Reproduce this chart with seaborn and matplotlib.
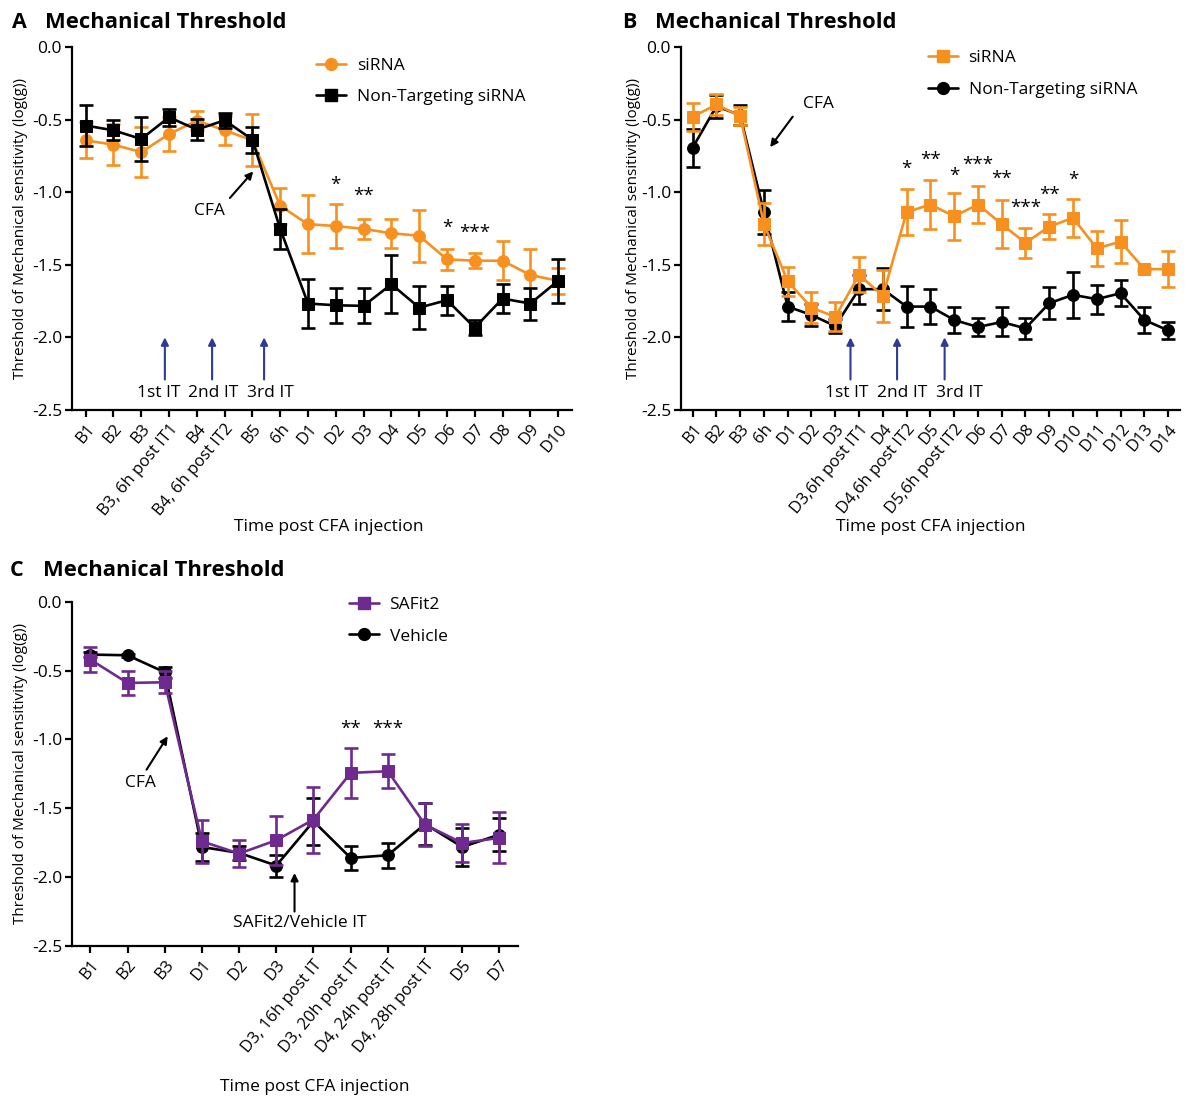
import matplotlib
matplotlib.use("Agg")
import matplotlib.pyplot as plt
import seaborn as sns
import numpy as np
from matplotlib.lines import Line2D

# ---------------- data ----------------
cats_A = ["B1", "B2", "B3", "B3, 6h post IT1", "B4", "B4, 6h post IT2", "B5", "6h",
          "D1", "D2", "D3", "D4", "D5", "D6", "D7", "D8", "D9", "D10"]
sirna_A = [-0.643, -0.673, -0.724, -0.60, -0.507, -0.574, -0.643, -1.094,
           -1.221, -1.233, -1.253, -1.283, -1.30, -1.463, -1.472, -1.472, -1.571, -1.61]
sirna_A_err = [0.125, 0.14, 0.17, 0.115, 0.065, 0.10, 0.18, 0.125,
               0.20, 0.15, 0.07, 0.10, 0.18, 0.07, 0.05, 0.135, 0.18, 0.09]
nt_A = [-0.541, -0.574, -0.634, -0.484, -0.569, -0.505, -0.638, -1.253,
        -1.767, -1.779, -1.783, -1.634, -1.795, -1.744, -1.933, -1.733, -1.767, -1.61]
nt_A_err = [0.14, 0.07, 0.15, 0.06, 0.07, 0.05, 0.09, 0.14,
            0.17, 0.12, 0.12, 0.20, 0.15, 0.10, 0.05, 0.10, 0.11, 0.15]
stars_A = {"D2": ("*", -1.01), "D3": ("**", -1.09), "D6": ("*", -1.31), "D7": ("***", -1.34)}

cats_B = ["B1", "B2", "B3", "6h", "D1", "D2", "D3", "D3,6h post IT1", "D4",
          "D4,6h post IT2", "D5", "D5,6h post IT2", "D6", "D7", "D8", "D9", "D10",
          "D11", "D12", "D13", "D14"]
sirna_B = [-0.482, -0.396, -0.477, -1.219, -1.615, -1.795, -1.859, -1.569, -1.714,
           -1.138, -1.085, -1.166, -1.085, -1.219, -1.35, -1.237, -1.177,
           -1.387, -1.341, -1.53, -1.53]
sirna_B_err = [0.095, 0.075, 0.063, 0.143, 0.10, 0.107, 0.10, 0.12, 0.18,
               0.158, 0.17, 0.163, 0.13, 0.163, 0.10, 0.085, 0.133,
               0.122, 0.147, 0.01, 0.122]
nt_B = [-0.694, -0.408, -0.47, -1.138, -1.788, -1.846, -1.922, -1.668, -1.668,
        -1.788, -1.788, -1.88, -1.929, -1.894, -1.938, -1.765, -1.707,
        -1.737, -1.696, -1.88, -1.952]
nt_B_err = [0.13, 0.08, 0.07, 0.152, 0.10, 0.075, 0.05, 0.10, 0.145,
            0.14, 0.12, 0.09, 0.06, 0.10, 0.07, 0.11, 0.16,
            0.10, 0.09, 0.09, 0.06]
stars_B = {"D4,6h post IT2": ("*", -0.90), "D5": ("**", -0.84), "D5,6h post IT2": ("*", -0.95),
           "D6": ("***", -0.875), "D7": ("**", -0.97), "D8": ("***", -1.17),
           "D9": ("**", -1.08), "D10": ("*", -0.98)}

cats_C = ["B1", "B2", "B3", "D1", "D2", "D3", "D3, 16h post IT", "D3, 20h post IT",
          "D4, 24h post IT", "D4, 28h post IT", "D5", "D7"]
safit_C = [-0.42, -0.59, -0.585, -1.74, -1.829, -1.732, -1.582, -1.243, -1.231,
           -1.619, -1.752, -1.715]
safit_C_err = [0.09, 0.085, 0.08, 0.157, 0.097, 0.178, 0.24, 0.18, 0.123,
               0.155, 0.14, 0.185]
veh_C = [-0.384, -0.389, -0.512, -1.781, -1.824, -1.916, -1.594, -1.861, -1.841,
         -1.614, -1.781, -1.691]
veh_C_err = [0.02, 0.01, 0.04, 0.10, 0.05, 0.08, 0.17, 0.09, 0.09,
             0.155, 0.14, 0.12]
stars_C = {"D3, 20h post IT": ("**", -0.99), "D4, 24h post IT": ("***", -0.99)}

yticks = [0.0, -0.5, -1.0, -1.5, -2.0, -2.5]

ORANGE = "#F7901E"
PURPLE = "#6F2A90"
BLUE = "#2E3A96"
BLACK = "#000000"

# ---------------- style ----------------
sns.set_style("ticks")
plt.rcParams["font.family"] = ["Open Sans", "DejaVu Sans"]
plt.rcParams["axes.unicode_minus"] = False
plt.rcParams["axes.linewidth"] = 1.6
plt.rcParams["xtick.major.width"] = 1.6
plt.rcParams["ytick.major.width"] = 1.6
plt.rcParams["xtick.major.size"] = 5
plt.rcParams["ytick.major.size"] = 5
plt.rcParams["xtick.color"] = "black"
plt.rcParams["ytick.color"] = "black"
plt.rcParams["axes.edgecolor"] = "black"
plt.rcParams["text.color"] = "black"
plt.rcParams["axes.labelcolor"] = "black"

fig = plt.figure(figsize=(11.92, 11.0), dpi=100)
axA = fig.add_axes([0.0602, 0.6273, 0.4197, 0.3300])
axB = fig.add_axes([0.5711, 0.6273, 0.4188, 0.3300])
axC = fig.add_axes([0.0602, 0.1400, 0.3744, 0.3130])

LW = 1.9
FS_TICK = 12
FS_YTICK = 12.5
FS_XLAB = 12.5
FS_YLAB = 11
FS_ANN = 12.5
FS_LEG = 12.5
ROT = 50


def series(ax, x, y, err, color, marker, z):
    sns.lineplot(x=x, y=y, ax=ax, color=color, marker=marker, markersize=8.5,
                 markeredgecolor=color, linewidth=LW, zorder=z, errorbar=None)
    ax.errorbar(x, y, yerr=err, fmt="none", ecolor=color, elinewidth=LW,
                capsize=5, capthick=LW, zorder=z)


def setup(ax, cats, xlab_x, xlab_y, ylab_x):
    n = len(cats)
    ax.set_xlim(-0.5, n - 0.5)
    ax.set_ylim(-2.5, 0.0)
    ax.set_yticks(yticks)
    ax.set_yticklabels([f"{v:.1f}" for v in yticks], fontsize=FS_YTICK)
    ax.set_xticks(range(n))
    ax.set_xticklabels(cats, rotation=ROT, ha="right", rotation_mode="anchor", fontsize=FS_TICK)
    ax.tick_params(axis="x", pad=3)
    ax.tick_params(axis="y", pad=2)
    sns.despine(ax=ax)
    ax.set_xlabel("Time post CFA injection", fontsize=FS_XLAB)
    ax.xaxis.set_label_coords(xlab_x, xlab_y)
    ax.set_ylabel("Threshold of Mechanical sensitivity (log(g))", fontsize=FS_YLAB)
    ax.yaxis.set_label_coords(ylab_x, 0.5)


def stars(ax, cats, d):
    for k, (s, yv) in d.items():
        ax.text(cats.index(k), yv, s, ha="center", va="bottom", fontsize=13.5)


def arrow(ax, tail, head, color="black"):
    ax.annotate("", xy=head, xytext=tail,
                arrowprops=dict(arrowstyle="-|>", color=color, lw=1.5, mutation_scale=11,
                                shrinkA=0, shrinkB=0))


def legend(ax, handles, labels, anchor):
    ax.legend(handles, labels, loc="upper left", bbox_to_anchor=anchor, frameon=False,
              fontsize=FS_LEG, handlelength=1.75, handletextpad=0.6, labelspacing=0.9,
              borderaxespad=0)


# ---------------- panel A ----------------
xA = np.arange(len(cats_A))
series(axA, xA, sirna_A, sirna_A_err, ORANGE, "o", 3)
series(axA, xA, nt_A, nt_A_err, BLACK, "s", 4)
setup(axA, cats_A, 0.514, -0.3, -0.087)
stars(axA, cats_A, stars_A)
axA.text(4.47, -1.13, "CFA", ha="center", va="center", fontsize=FS_ANN)
arrow(axA, (5.19, -1.04), (6.03, -0.857))
for xp, lab, xt in [(2.85, "1st IT", 2.62), (4.55, "2nd IT", 4.6), (6.42, "3rd IT", 6.65)]:
    arrow(axA, (xp, -2.29), (xp, -2.0), BLUE)
    axA.text(xt, -2.385, lab, ha="center", va="center", fontsize=FS_ANN)
hA = [Line2D([], [], color=ORANGE, marker="o", markersize=8.5, lw=LW),
      Line2D([], [], color=BLACK, marker="s", markersize=8.5, lw=LW)]
legend(axA, hA, ["siRNA", "Non-Targeting siRNA"], (0.474, 0.99))

# ---------------- panel B ----------------
xB = np.arange(len(cats_B))
series(axB, xB, nt_B, nt_B_err, BLACK, "o", 3)
series(axB, xB, sirna_B, sirna_B_err, ORANGE, "s", 4)
setup(axB, cats_B, 0.5, -0.3, -0.08)
stars(axB, cats_B, stars_B)
axB.text(5.29, -0.39, "CFA", ha="center", va="center", fontsize=FS_ANN)
arrow(axB, (4.21, -0.48), (3.26, -0.69))
for xp, lab, xt in [(6.64, "1st IT", 6.5), (8.6, "2nd IT", 8.83), (10.6, "3rd IT", 11.2)]:
    arrow(axB, (xp, -2.29), (xp, -2.0), BLUE)
    axB.text(xt, -2.385, lab, ha="center", va="center", fontsize=FS_ANN)
hB = [Line2D([], [], color=ORANGE, marker="s", markersize=8.5, lw=LW),
      Line2D([], [], color=BLACK, marker="o", markersize=8.5, lw=LW)]
legend(axB, hB, ["siRNA", "Non-Targeting siRNA"], (0.481, 1.01))

# ---------------- panel C ----------------
xC = np.arange(len(cats_C))
series(axC, xC, veh_C, veh_C_err, BLACK, "o", 3)
series(axC, xC, safit_C, safit_C_err, PURPLE, "s", 4)
setup(axC, cats_C, 0.545, -0.385, -0.098)
stars(axC, cats_C, stars_C)
axC.text(1.35, -1.32, "CFA", ha="center", va="center", fontsize=FS_ANN)
arrow(axC, (1.51, -1.22), (2.08, -0.977))
axC.text(5.64, -2.33, "SAFit2/Vehicle IT", ha="center", va="center", fontsize=FS_ANN)
arrow(axC, (5.49, -2.25), (5.49, -1.97))
hC = [Line2D([], [], color=PURPLE, marker="s", markersize=8.5, lw=LW),
      Line2D([], [], color=BLACK, marker="o", markersize=8.5, lw=LW)]
legend(axC, hC, ["SAFit2", "Vehicle"], (0.605, 1.035))

# ---------------- titles ----------------
for x0, y0, letter in [(12, 22, "A"), (622, 22, "B"), (10, 571, "C")]:
    fig.text(x0 / 1192, 1 - y0 / 1100, letter, fontsize=15.5, fontweight="bold", va="center")
    fig.text((x0 + 33) / 1192, 1 - y0 / 1100, "Mechanical Threshold", fontsize=15.8,
             fontweight="bold", va="center")

fig.savefig("out.png", dpi=100)
